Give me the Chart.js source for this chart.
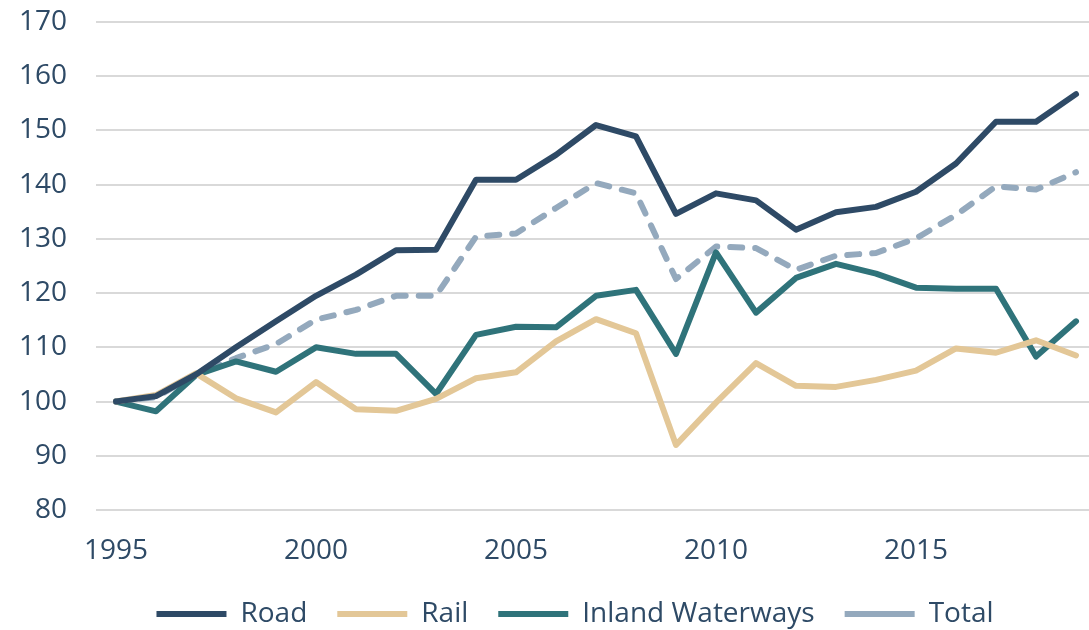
<!DOCTYPE html>
<html lang="en">
<head>
    <meta charset="UTF-8">
    <title>Freight transport index</title>
    <script src="https://cdn.jsdelivr.net/npm/chart.js"></script>
    <style>
        html, body {
            margin: 0;
            padding: 0;
            background: #ffffff;
            overflow: hidden;
        }
        .chart-wrap {
            width: 1100px;
            height: 630px;
        }
    </style>
</head>
<body>
    <div class="chart-wrap">
        <canvas id="freightChart"></canvas>
    </div>

    <script>
        // Index 1995 = 100
        const years = [1995, 1996, 1997, 1998, 1999, 2000, 2001, 2002, 2003, 2004, 2005, 2006,
                       2007, 2008, 2009, 2010, 2011, 2012, 2013, 2014, 2015, 2016, 2017, 2018, 2019];
        const road = [100, 101, 105, 110, 114.8, 119.5, 123.4, 127.9, 128, 140.9, 140.9, 145.5,
                      151, 148.9, 134.6, 138.4, 137.1, 131.7, 134.9, 135.9, 138.7, 143.9, 151.6, 151.6, 156.7];
        const rail = [100, 101.2, 105.2, 100.6, 98, 103.6, 98.6, 98.3, 100.5, 104.3, 105.4, 111.1,
                      115.2, 112.6, 92, 99.8, 107.1, 102.9, 102.7, 104, 105.7, 109.8, 109, 111.3, 108.5];
        const inland = [100, 98.2, 104.9, 107.4, 105.5, 110, 108.8, 108.8, 101.4, 112.3, 113.8, 113.7,
                        119.5, 120.6, 108.8, 127.5, 116.4, 122.8, 125.4, 123.6, 121, 120.8, 120.8, 108.3, 114.8];
        const total = [100, 100.8, 105, 108, 110.6, 115.1, 116.9, 119.5, 119.5, 130.4, 131, 135.7,
                       140.3, 138.4, 122.6, 128.6, 128.3, 124.3, 126.9, 127.4, 130.1, 134.4, 139.7, 139.1, 142.3];
        const yTicks = [80, 90, 100, 110, 120, 130, 140, 150, 160, 170];

        const textColor = '#2E4A66';
        const fontFamily = '"Open Sans", sans-serif';

        function lineSet(label, data, color, dash) {
            return {
                label: label,
                data: data,
                borderColor: color,
                backgroundColor: color,
                borderWidth: 6,
                borderDash: dash || [],
                borderCapStyle: 'round',
                borderJoinStyle: 'round',
                pointRadius: 0,
                pointHoverRadius: 0,
                pointStyle: 'line',
                tension: 0,
                fill: false
            };
        }

        // the legend in the source sits a bit right of centre
        const legendShift = {
            id: 'legendShift',
            afterLayout(chart) {
                chart.legend.left += 25;
                chart.legend.right += 25;
            }
        };

        const ctx = document.getElementById('freightChart').getContext('2d');
        new Chart(ctx, {
            type: 'line',
            data: {
                labels: years,
                datasets: [
                    lineSet('Road', road, '#2E4A66'),
                    lineSet('Rail', rail, '#E3C797'),
                    lineSet('Inland Waterways', inland, '#2F737A'),
                    lineSet('Total', total, '#94A9BD', [12, 13])
                ]
            },
            plugins: [legendShift],
            options: {
                responsive: true,
                maintainAspectRatio: false,
                animation: false,
                layout: {
                    padding: { top: 22, right: 0, bottom: 0, left: 0 }
                },
                plugins: {
                    legend: {
                        position: 'bottom',
                        maxHeight: 60,
                        labels: {
                            color: textColor,
                            font: { family: fontFamily, size: 28 },
                            usePointStyle: true,
                            pointStyleWidth: 70,
                            padding: 30,
                            boxHeight: 28
                        }
                    },
                    tooltip: { enabled: false }
                },
                scales: {
                    x: {
                        offset: true,
                        grid: { display: false, drawTicks: false },
                        border: { display: false },
                        afterFit: function (scale) {
                            scale.height = 60;
                        },
                        ticks: {
                            color: textColor,
                            font: { family: fontFamily, size: 28 },
                            autoSkip: false,
                            maxRotation: 0,
                            padding: 24,
                            callback: function (value, index) {
                                const y = years[index];
                                return (y - years[0]) % 5 === 0 ? String(y) : '';
                            }
                        }
                    },
                    y: {
                        min: yTicks[0],
                        max: yTicks[yTicks.length - 1],
                        afterBuildTicks: function (scale) {
                            scale.ticks = yTicks.map(v => ({ value: v }));
                        },
                        afterFit: function (scale) {
                            scale.paddingTop = 0;
                            scale.paddingBottom = 0;
                            scale.width = 96;
                        },
                        grid: {
                            color: '#D9D9D9',
                            lineWidth: 2,
                            drawTicks: false
                        },
                        border: { display: false },
                        ticks: {
                            color: textColor,
                            font: { family: fontFamily, size: 28 },
                            padding: 29
                        }
                    }
                }
            }
        });
    </script>
</body>
</html>
